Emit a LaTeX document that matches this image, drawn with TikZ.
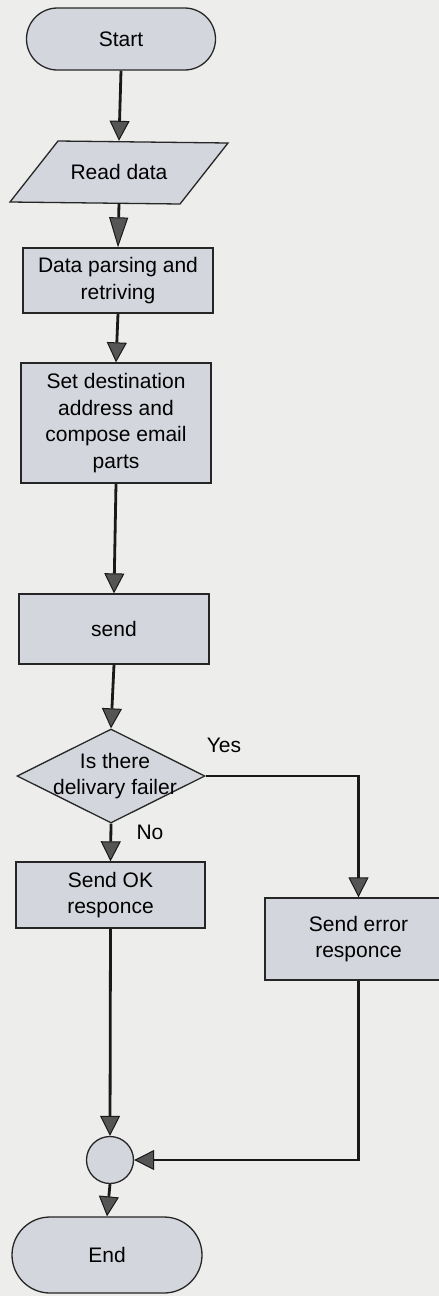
\documentclass[tikz,border=0pt]{standalone}
\usepackage{fontspec}
\setmainfont{Liberation Sans}
\usetikzlibrary{arrows.meta,shapes.geometric}
\definecolor{paper}{HTML}{EDEDEB}
\definecolor{boxfill}{HTML}{D4D6DD}
\definecolor{tipgray}{HTML}{555555}
\tikzset{
  every node/.style={font=\fontsize{21}{26.5}\selectfont, inner sep=0pt, align=center},
  outline/.style={draw=black!85, line width=1.3pt, fill=boxfill},
  stepbox/.style={outline, rectangle},
  terminal/.style={outline, rectangle, rounded corners=#1},
  flow/.style={line width=2.8pt, draw=black!90,
    -{Triangle[width=20pt,length=20pt,line width=1pt,fill=tipgray]}},
  longflow/.style={line width=2.8pt, draw=black!90,
    -{Triangle[width=19pt,length=30pt,line width=1pt,fill=tipgray]}},
  plain/.style={line width=2.8pt, draw=black!90},
}
\begin{document}
\begin{tikzpicture}[x=1pt,y=-1pt]
  % page and background
  \fill[paper] (0,0) rectangle (439,1296);
  \useasboundingbox (0,0) rectangle (439,1296);

  % start terminal
  \node[terminal=31pt, minimum width=189pt, minimum height=62pt] (start) at (121,39) {Start};

  % input parallelogram
  \filldraw[outline] (58,141) -- (228,143) -- (180,204) -- (10,202) -- cycle;
  \node[minimum width=120pt, minimum height=62pt] (read) at (119,172) {Read data};

  % process steps
  \node[stepbox, minimum width=190pt, minimum height=65pt] (parse) at (118,280.5)
    {Data parsing and\\retriving};
  \node[stepbox, minimum width=190pt, minimum height=120pt] (compose) at (116,423)
    {Set destination\\address and\\compose email\\parts};
  \node[stepbox, minimum width=190pt, minimum height=70pt] (send) at (114,629) {send};

  % decision
  \node[outline, diamond, minimum width=188pt, minimum height=94pt] (check) at (111,776) {};
  \node (checktext) at (115,776) {Is there\\delivary failer};

  % outcomes
  \node[stepbox, minimum width=189pt, minimum height=66pt] (ok) at (110.5,895)
    {Send OK\\responce};
  \node[stepbox, minimum width=187pt, minimum height=82pt] (err) at (358.5,939)
    {Send error\\responce};

  % merge point and end terminal
  \node[outline, circle, minimum size=47pt] (join) at (110,1160) {};
  \node[terminal=38pt, minimum width=190pt, minimum height=76pt] (stop) at (107,1255) {End};

  % connectors
  \draw[flow] (start.south) -- (read.north);
  \draw[longflow] (read.south) -- (parse.north);
  \draw[flow] (parse.south) -- (compose.north);
  \draw[flow] (compose.south) -- (send.north);
  \draw[flow] (send.south) -- (check.north);
  \draw[flow] (check.south) -- (ok.north);
  \draw[flow] (check.east) -| (err.north);
  \draw[flow] (ok.south) -- (join.north);
  \draw[flow] (err.south) |- (join.east);
  \draw[flow] (join.south) -- (stop.north);

  % branch labels
  \node (yes) at (224,745) {Yes};
  \node (no) at (150,832) {No};
\end{tikzpicture}
\end{document}
